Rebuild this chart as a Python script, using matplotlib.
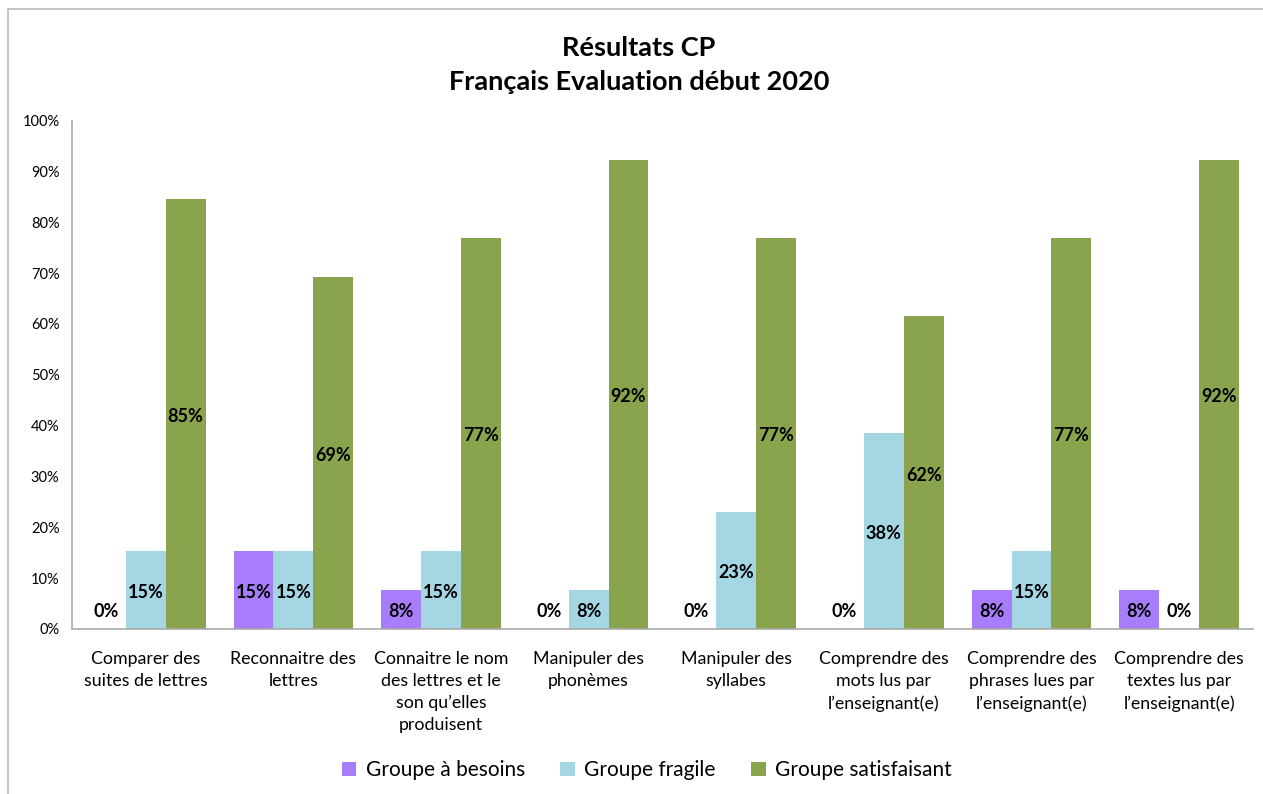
import matplotlib.pyplot as plt
import matplotlib.patches as mpatches
import numpy as np

plt.rcParams['font.family'] = ['Lato', 'DejaVu Sans']

categories = [
    "Comparer des\nsuites de lettres",
    "Reconnaitre des\nlettres",
    "Connaitre le nom\ndes lettres et le\nson qu\u2019elles\nproduisent",
    "Manipuler des\nphonèmes",
    "Manipuler des\nsyllabes",
    "Comprendre des\nmots lus par\nl\u2019enseignant(e)",
    "Comprendre des\nphrases lues par\nl\u2019enseignant(e)",
    "Comprendre des\ntextes lus par\nl\u2019enseignant(e)",
]
series_names = ["Groupe à besoins", "Groupe fragile", "Groupe satisfaisant"]
besoins = [0, 15.38, 7.69, 0, 0, 0, 7.69, 7.69]
fragile = [15.38, 15.38, 15.38, 7.69, 23.08, 38.46, 15.38, 0]
satisfaisant = [84.62, 69.23, 76.92, 92.31, 76.92, 61.54, 76.92, 92.31]
colors = ["#A77DFC", "#A5D6E3", "#8AA44D"]

fig = plt.figure(figsize=(12.63, 7.94), dpi=100)
ax = fig.add_axes([0.057, 0.208, 0.935, 0.640])

# frame around the chart
fig.patches.append(mpatches.Rectangle((8 / 1263, -0.1), 1.2, 1 - 9 / 794 + 0.1,
                                      transform=fig.transFigure, fill=False,
                                      edgecolor="#BBBBBB", linewidth=1.2))

x = np.arange(len(categories))
w = 0.27
for i, (vals, name, col) in enumerate(zip([besoins, fragile, satisfaisant], series_names, colors)):
    pos = x + (i - 1) * w
    ax.bar(pos, vals, width=w, color=col, label=name)
    for p, v in zip(pos, vals):
        y = v / 2 if v > 0 else 4
        ax.text(p, y - 0.5, f"{round(v)}%", ha="center", va="center",
                fontsize=13, fontweight="bold", color="black")

ax.set_xlim(-0.5, len(categories) - 0.5)
ax.set_ylim(0, 100)
ax.set_yticks(np.arange(0, 101, 10))
ax.set_yticklabels([f"{t}%" for t in range(0, 101, 10)], fontsize=10.5)
ax.set_xticks(x)
ax.set_xticklabels(categories, fontsize=12.8, linespacing=1.45, va="top")
ax.tick_params(axis="x", length=0, pad=16)
ax.tick_params(axis="y", length=0, pad=9)
for s in ["top", "right"]:
    ax.spines[s].set_visible(False)
for s in ["left", "bottom"]:
    ax.spines[s].set_color("#AAAAAA")
    ax.spines[s].set_linewidth(1.2)

fig.text(0.506, 0.94, "Résultats CP", ha="center", va="center",
         fontsize=19.5, fontweight="bold")
fig.text(0.506, 0.897, "Français Evaluation début 2020", ha="center", va="center",
         fontsize=19.5, fontweight="bold")

fig.legend(loc="center", bbox_to_anchor=(0.512, 0.03), ncol=3, frameon=False,
           fontsize=15, handlelength=0.7, handleheight=0.7, columnspacing=1.7,
           handletextpad=0.45)

fig.savefig("out.png", dpi=100)
